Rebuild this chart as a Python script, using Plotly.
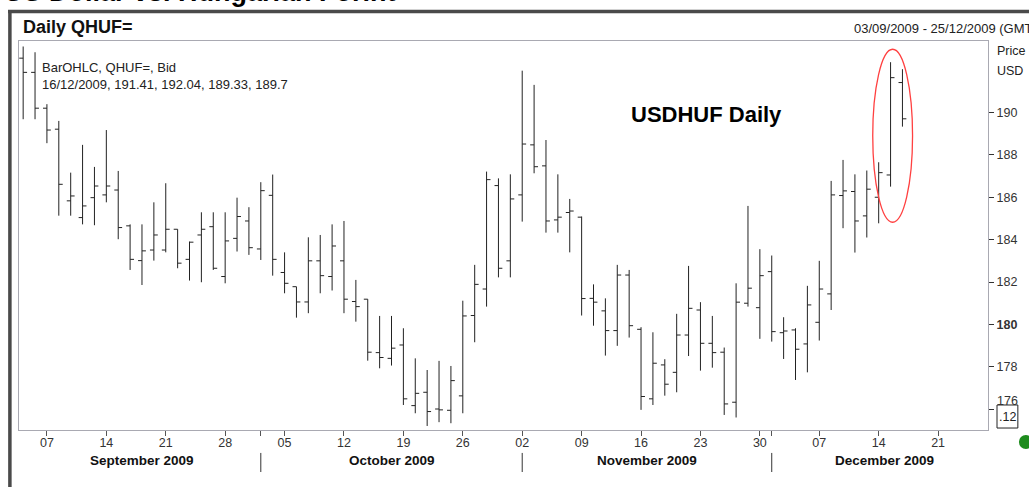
import pandas as pd
import plotly.graph_objects as go

# ---------------- data ----------------
# trading days shown on the axis (03/09/2009 - 25/12/2009); bars exist up to 16/12/2009
axis_days = [d.strftime("%Y-%m-%d") for d in pd.bdate_range("2009-09-03", "2009-12-25")]
dates = [d for d in axis_days if d <= "2009-12-16"]

open_ = [192.56, 191.89, 190.20, 189.21, 185.83, 185.04, 185.98, 186.11, 186.34, 184.65,
         183.01, 183.51, 183.51, 184.49, 183.07, 184.22, 184.61, 182.26, 184.06, 184.88,
         183.56, 186.09, 182.45, 181.78, 181.06, 183.00, 182.26, 183.00, 181.08, 181.19,
         178.67, 178.40, 179.03, 176.17, 176.80, 176.01, 175.95, 176.63, 180.42, 181.67,
         186.55, 183.00, 186.11, 188.47, 187.48, 184.93, 185.28, 185.06, 181.23, 180.64,
         179.71, 182.33, 179.77, 176.49, 178.09, 177.74, 179.50, 180.68, 179.11, 178.69,
         176.33, 181.00, 180.79, 182.49, 179.61, 179.74, 179.08, 180.10, 181.44, 186.08,
         186.27, 185.12, 186.00, 187.05, 191.41]
high = [193.11, 192.84, 190.39, 189.60, 187.16, 188.47, 187.43, 189.17, 187.24, 184.72,
        184.72, 185.76, 186.66, 184.49, 183.91, 185.29, 185.29, 185.29, 185.98, 185.53,
        186.71, 187.07, 183.40, 181.78, 184.11, 184.22, 184.72, 184.88, 182.10, 181.19,
        180.40, 180.40, 179.82, 178.40, 177.85, 178.28, 178.04, 181.12, 182.81, 187.21,
        186.89, 187.08, 191.97, 191.30, 188.70, 187.08, 185.92, 185.09, 181.89, 181.23,
        182.81, 182.57, 179.87, 179.63, 178.36, 180.50, 182.76, 181.05, 180.40, 178.91,
        181.94, 185.59, 183.55, 183.25, 180.34, 179.82, 181.82, 183.00, 186.77, 187.76,
        187.08, 187.26, 187.65, 192.37, 192.04]
low = [189.68, 189.68, 188.55, 185.13, 185.13, 184.72, 184.68, 185.76, 184.02, 182.57,
       181.86, 183.01, 183.40, 182.65, 182.07, 181.99, 182.57, 181.94, 183.44, 183.28,
       183.04, 182.30, 181.47, 180.32, 180.53, 181.47, 181.60, 180.53, 180.13, 178.29,
       177.93, 178.06, 176.20, 175.81, 175.21, 175.39, 175.34, 175.81, 179.16, 180.84,
       182.22, 182.22, 184.85, 187.13, 184.33, 184.33, 183.40, 180.42, 179.94, 178.53,
       178.99, 179.38, 175.97, 176.20, 176.64, 176.80, 178.51, 177.82, 177.96, 175.73,
       175.61, 180.84, 179.32, 179.19, 178.37, 177.38, 177.74, 179.24, 180.68, 184.54,
       183.39, 184.10, 184.77, 186.50, 189.33]
close = [191.89, 190.20, 189.17, 186.61, 186.06, 185.59, 186.53, 186.53, 184.57, 183.07,
         183.47, 184.22, 184.49, 182.89, 183.88, 184.49, 182.65, 183.94, 185.09, 183.62,
         186.31, 183.07, 181.94, 181.06, 183.00, 182.30, 183.70, 181.19, 180.84, 178.69,
         178.44, 178.88, 176.49, 176.75, 175.89, 175.97, 177.35, 180.40, 181.89, 186.83,
         182.65, 185.92, 188.51, 187.44, 184.88, 185.06, 185.35, 181.22, 181.05, 179.71,
         182.33, 179.94, 176.60, 178.17, 177.18, 179.50, 180.76, 179.11, 178.67, 176.25,
         181.05, 181.71, 182.30, 179.66, 179.69, 178.83, 180.92, 181.67, 186.11, 186.30,
         184.88, 186.38, 187.16, 191.64, 189.70]

y_ticks = [176, 178, 180, 182, 184, 186, 188, 190]
month_names = ["September 2009", "October 2009", "November 2009", "December 2009"]

# ---------------- derived axis helpers ----------------
pos = {d: i for i, d in enumerate(axis_days)}
x = [pos[d] for d in dates]
mondays = [d for d in axis_days if pd.Timestamp(d).weekday() == 0]
month_keys = ["2009-09", "2009-10", "2009-11", "2009-12"]
month_first = [min(pos[d] for d in axis_days if d.startswith(m)) for m in month_keys]
month_last = [max(pos[d] for d in axis_days if d.startswith(m)) for m in month_keys]

tickvals = [pos[d] for d in mondays] + [month_first[1], month_first[3]]
ticktext = [pd.Timestamp(d).strftime("%d") for d in mondays] + ["", ""]

XR = [-0.35, 81.2]
YR = [175.02, 193.37]
FONT = "Liberation Sans, Arial, sans-serif"
BAR = "#222222"

fig = go.Figure()
fig.add_trace(go.Ohlc(
    x=x, open=open_, high=high, low=low, close=close,
    text=dates, hoverinfo="text+y",
    tickwidth=0.33,
    increasing=dict(line=dict(color=BAR, width=1)),
    decreasing=dict(line=dict(color=BAR, width=1)),
    showlegend=False,
))
# last-price marker on the price axis
fig.add_trace(go.Scatter(
    x=[XR[1] + 0.55], y=[close[-1]], mode="markers",
    marker=dict(symbol="diamond", size=10, color="black"),
    cliponaxis=False, showlegend=False, hoverinfo="skip",
))

ann = []
# month labels
for name, a, b in zip(month_names, month_first, month_last):
    ann.append(dict(x=(a + b) / 2 + 0.5, y=-0.079, xref="x", yref="paper",
                    text="<b>%s</b>" % name, showarrow=False,
                    font=dict(family=FONT, size=13.5, color="#111"), yanchor="middle"))
# headings
ann += [
    dict(x=-0.0175, y=1.1257, xref="paper", yref="paper", xanchor="left", yanchor="middle",
         text="<b>US Dollar vs. Hungarian Forint</b>", showarrow=False,
         font=dict(family=FONT, size=27, color="#000")),
    dict(x=0.002, y=1.036, xref="paper", yref="paper", xanchor="left", yanchor="middle",
         text="<b>Daily QHUF=</b>", showarrow=False,
         font=dict(family=FONT, size=18, color="#111")),
    dict(x=0.8592, y=1.0334, xref="paper", yref="paper", xanchor="left", yanchor="middle",
         text="03/09/2009 - 25/12/2009 (GMT)", showarrow=False,
         font=dict(family=FONT, size=13, color="#222")),
    dict(x=1.0072, y=0.9743, xref="paper", yref="paper", xanchor="left", yanchor="middle",
         text="Price", showarrow=False, font=dict(family=FONT, size=12.5, color="#222")),
    dict(x=1.0072, y=0.9229, xref="paper", yref="paper", xanchor="left", yanchor="middle",
         text="USD", showarrow=False, font=dict(family=FONT, size=12.5, color="#222")),
    dict(x=0.0216, y=0.9306, xref="paper", yref="paper", xanchor="left", yanchor="middle",
         text="BarOHLC, QHUF=, Bid", showarrow=False,
         font=dict(family=FONT, size=13, color="#222")),
    dict(x=0.0216, y=0.8869, xref="paper", yref="paper", xanchor="left", yanchor="middle",
         text="%s, %.2f, %.2f, %.2f, %.1f" % (pd.Timestamp(dates[-1]).strftime("%d/%m/%Y"),
                                              open_[-1], high[-1], low[-1], close[-1]),
         showarrow=False, font=dict(family=FONT, size=13, color="#222")),
    dict(x=0.710, y=0.81, xref="paper", yref="paper", xanchor="center", yanchor="middle",
         text="<b>USDHUF Daily</b>", showarrow=False,
         font=dict(family=FONT, size=22, color="#000")),
    # 176 label (lifted above the value box, as in the source)
    dict(x=1.0075, y=176.4, xref="paper", yref="y", xanchor="left", yanchor="middle",
         text="176", showarrow=False, font=dict(family=FONT, size=12.5, color="#333")),
    dict(x=1.0200, y=0.0347, xref="paper", yref="paper", xanchor="center", yanchor="middle",
         text=".12", showarrow=False, font=dict(family=FONT, size=12.5, color="#222")),
]

shapes = [
    # outer frame (thick top / left)
    dict(type="line", xref="paper", yref="paper", x0=-0.0113, x1=1.1, y0=1.0758, y1=1.0758,
         line=dict(color="#4a4a4a", width=3.5)),
    dict(type="line", xref="paper", yref="paper", x0=-0.0094, x1=-0.0094, y0=1.08, y1=-0.2,
         line=dict(color="#4a4a4a", width=3.5)),
    # highlight ellipse
    dict(type="circle", xref="x", yref="y", x0=71.5, x1=74.85, y0=184.82, y1=192.98,
         line=dict(color="#ff4040", width=1.3)),
    # value box at the bottom of the price axis
    dict(type="rect", xref="paper", yref="paper", x0=1.0093, x1=1.0308, y0=0.0051, y1=0.0643,
         line=dict(color="#222", width=1), fillcolor="white"),
    # green status dot
    dict(type="circle", xref="paper", yref="paper", x0=1.0319, x1=1.0463, y0=-0.0488, y1=-0.0129,
         line=dict(color="#1e8c1e", width=0), fillcolor="#1e8c1e"),
]
# month separators below the date labels
for m in month_first[1:]:
    shapes.append(dict(type="line", xref="x", yref="paper", x0=m, x1=m, y0=-0.059, y1=-0.108,
                       line=dict(color="#333", width=1)))

fig.update_layout(
    width=1029, height=487, autosize=False,
    margin=dict(l=19, r=37, t=41, b=57),
    paper_bgcolor="white", plot_bgcolor="white",
    font=dict(family=FONT, size=12, color="#333"),
    annotations=ann, shapes=shapes,
    xaxis=dict(range=XR, tickmode="array", tickvals=tickvals, ticktext=ticktext,
               ticks="outside", ticklen=5, tickcolor="#555", tickwidth=1,
               ticklabelstandoff=-4,
               tickfont=dict(family=FONT, size=12.5, color="#333"),
               showline=True, linecolor="#a9a9b2", linewidth=1, mirror=True,
               showgrid=False, zeroline=False, rangeslider=dict(visible=False)),
    yaxis=dict(range=YR, side="right", tickmode="array", tickvals=y_ticks,
               ticktext=["" if v == 176 else ("<b>180</b>" if v == 180 else str(v)) for v in y_ticks],
               ticks="outside", ticklen=5, tickcolor="#333", tickwidth=1,
               tickfont=dict(family=FONT, size=12.5, color="#333"),
               showline=True, linecolor="#a9a9b2", linewidth=1, mirror=True,
               showgrid=False, zeroline=False),
)

# place the figure at the page's top-left corner (no default body margin)
fig.write_html("out.html",
               config={"displayModeBar": False},
               post_script="document.body.style.margin='0';"
                           "document.documentElement.style.overflow='hidden';")
